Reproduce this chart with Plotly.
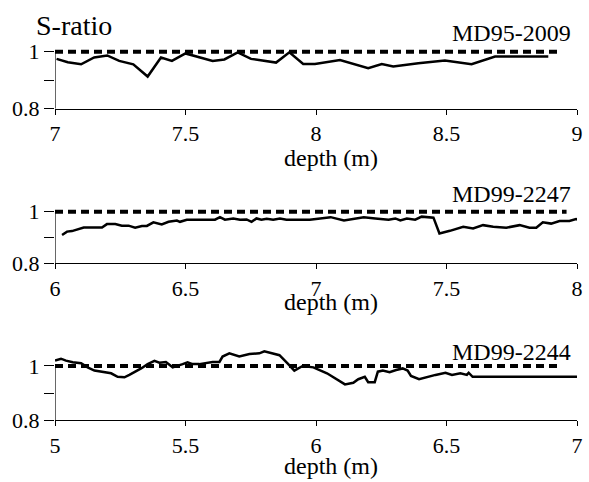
import plotly.graph_objects as go

# ---------------- data ----------------
# Panel 1: MD95-2009
md95_depth = [7.006, 7.049, 7.10, 7.15, 7.20, 7.246, 7.30, 7.355, 7.406, 7.448, 7.50,
              7.553, 7.604, 7.649, 7.70, 7.751, 7.802, 7.847, 7.898, 7.951, 7.996,
              8.092, 8.20, 8.252, 8.296, 8.392, 8.494, 8.596, 8.686, 8.75, 8.89]
md95_s = [0.975, 0.963, 0.956, 0.980, 0.987, 0.968, 0.956, 0.913, 0.980, 0.968, 0.994,
          0.980, 0.968, 0.973, 0.998, 0.975, 0.969, 0.962, 0.998, 0.957, 0.957,
          0.971, 0.942, 0.957, 0.948, 0.960, 0.969, 0.956, 0.983, 0.983, 0.983]

# Panel 2: MD99-2247
md2247_depth = [6.027, 6.046, 6.065, 6.084, 6.11, 6.135, 6.18, 6.199, 6.231, 6.256,
                6.282, 6.307, 6.333, 6.352, 6.377, 6.409, 6.435, 6.467, 6.479, 6.505,
                6.543, 6.581, 6.613, 6.632, 6.651, 6.683, 6.709, 6.734, 6.753, 6.772,
                6.791, 6.811, 6.836, 6.862, 6.887, 6.938, 6.976, 7.0, 7.056, 7.107,
                7.145, 7.183, 7.227, 7.278, 7.304, 7.323, 7.348, 7.38, 7.405, 7.45,
                7.473, 7.513, 7.564, 7.602, 7.64, 7.679, 7.729, 7.78, 7.818, 7.844,
                7.869, 7.901, 7.933, 7.971, 7.996, 8.02]
md2247_s = [0.910, 0.923, 0.925, 0.932, 0.939, 0.939, 0.939, 0.952, 0.952, 0.946,
            0.946, 0.938, 0.945, 0.945, 0.959, 0.951, 0.961, 0.966, 0.961, 0.969,
            0.969, 0.969, 0.969, 0.979, 0.969, 0.974, 0.969, 0.970, 0.961, 0.974,
            0.969, 0.973, 0.969, 0.974, 0.969, 0.969, 0.969, 0.972, 0.979, 0.966,
            0.972, 0.979, 0.974, 0.969, 0.974, 0.966, 0.974, 0.969, 0.981, 0.977,
            0.916, 0.926, 0.942, 0.935, 0.948, 0.942, 0.938, 0.948, 0.938, 0.938,
            0.959, 0.954, 0.964, 0.964, 0.972, 0.961]

# Panel 3: MD99-2244
md2244_depth = [5.0, 5.023, 5.042, 5.068, 5.10, 5.125, 5.151, 5.183, 5.215, 5.24,
                5.266, 5.285, 5.31, 5.33, 5.355, 5.381, 5.40, 5.425, 5.451, 5.47,
                5.489, 5.508, 5.527, 5.553, 5.579, 5.604, 5.63, 5.642, 5.668, 5.706,
                5.745, 5.783, 5.802, 5.834, 5.86, 5.891, 5.917, 5.949, 5.968, 5.99,
                6.042, 6.08, 6.111, 6.143, 6.162, 6.187, 6.2, 6.225, 6.237, 6.256,
                6.282, 6.307, 6.332, 6.351, 6.364, 6.395, 6.427, 6.458, 6.496, 6.521,
                6.553, 6.578, 6.585, 6.6, 7.0]
md2244_s = [1.020, 1.027, 1.020, 1.014, 1.010, 0.995, 0.983, 0.977, 0.973, 0.960,
            0.958, 0.967, 0.979, 0.991, 1.007, 1.019, 1.012, 1.015, 0.995, 1.000,
            1.007, 1.014, 1.007, 1.007, 1.012, 1.015, 1.015, 1.035, 1.047, 1.035,
            1.044, 1.047, 1.054, 1.047, 1.040, 1.010, 0.983, 1.000, 0.998, 0.995,
            0.973, 0.951, 0.932, 0.938, 0.951, 0.960, 0.940, 0.940, 0.979, 0.983,
            0.977, 0.985, 0.991, 0.983, 0.963, 0.951, 0.960, 0.967, 0.975, 0.967,
            0.973, 0.967, 0.975, 0.960, 0.960]

core_names = ["MD95-2009", "MD99-2247", "MD99-2244"]
x_ranges = [[7, 9], [6, 8], [5, 7]]
x_tickvals = [[7, 7.5, 8, 8.5, 9], [6, 6.5, 7, 7.5, 8], [5, 5.5, 6, 6.5, 7]]
x_ticktext = [["7", "7.5", "8", "8.5", "9"], ["6", "6.5", "7", "7.5", "8"],
              ["5", "5.5", "6", "6.5", "7"]]
ref_level = 1.0
ref_end = [8.94, 7.96, 6.94]
y_tickvals = [0.8, 0.9, 1.0]
y_ticktext = ["0.8", "", "1"]
y_range = [0.8, 1.08]

series = [(md95_depth, md95_s), (md2247_depth, md2247_s), (md2244_depth, md2244_s)]

# ---------------- layout geometry ----------------
W, H = 589, 482
FONT = "Liberation Serif"
domains = [[0.7743, 0.9400], [0.4537, 0.6035], [0.1286, 0.2855]]
label_y_px = [33, 194, 352]
depth_y_px = [158, 302, 466]

fig = go.Figure()
shapes = []
annotations = []
for i, (dx, sy) in enumerate(series):
    xa = "x" if i == 0 else f"x{i+1}"
    ya = "y" if i == 0 else f"y{i+1}"
    fig.add_trace(go.Scatter(x=dx, y=sy, mode="lines", xaxis=xa, yaxis=ya,
                             line=dict(color="black", width=2.5), showlegend=False,
                             hoverinfo="skip"))
    fig.add_trace(go.Scatter(x=[x_ranges[i][0], ref_end[i]], y=[ref_level, ref_level],
                             mode="lines", xaxis=xa, yaxis=ya,
                             line=dict(color="black", width=4, dash="8px,5px"),
                             showlegend=False, hoverinfo="skip"))
    xkey = "xaxis" if i == 0 else f"xaxis{i+1}"
    ykey = "yaxis" if i == 0 else f"yaxis{i+1}"
    fig.update_layout(**{
        xkey: dict(domain=[0, 1], range=x_ranges[i], anchor=ya, automargin=False,
                   tickvals=x_tickvals[i], ticktext=x_ticktext[i],
                   showline=True, linecolor="black", linewidth=1.2,
                   ticks="outside", ticklen=5, tickwidth=1.2, tickcolor="black",
                   showgrid=False, zeroline=False, ticklabeloverflow="allow",
                   tickfont=dict(family=FONT, size=22, color="black")),
        ykey: dict(domain=domains[i], range=y_range, anchor=xa, automargin=False,
                   tickvals=y_tickvals, ticktext=y_ticktext,
                   showline=False, ticks="outside", ticklen=10, tickwidth=1.2,
                   tickcolor="black", showgrid=False, zeroline=False,
                   tickfont=dict(family=FONT, size=22, color="black")),
    })
    shapes.append(dict(type="line", xref=xa, yref=ya,
                       x0=x_ranges[i][0], x1=x_ranges[i][0], y0=y_range[0], y1=ref_level,
                       line=dict(color="black", width=1.2)))
    annotations.append(dict(text=core_names[i], xref="paper", yref="paper",
                            x=(573 - 55) / 522, y=1 - label_y_px[i] / H,
                            xanchor="right", yanchor="middle", showarrow=False,
                            font=dict(family=FONT, size=24, color="black")))
    annotations.append(dict(text="depth (m)", xref="paper", yref="paper",
                            x=(330.5 - 55) / 522, y=1 - depth_y_px[i] / H,
                            xanchor="center", yanchor="middle", showarrow=False,
                            font=dict(family=FONT, size=24, color="black")))

annotations.append(dict(text="S-ratio", xref="paper", yref="paper",
                        x=(34 - 55) / 522, y=1 - 25 / H,
                        xanchor="left", yanchor="middle", showarrow=False,
                        font=dict(family=FONT, size=28, color="black")))

fig.update_layout(width=W, height=H, margin=dict(l=55, r=12, t=0, b=0, autoexpand=False),
                  paper_bgcolor="white", plot_bgcolor="white",
                  font=dict(family=FONT, color="black"),
                  shapes=shapes, annotations=annotations, showlegend=False)

fig.write_html("out.html", config={"displayModeBar": False},
               post_script="document.body.style.margin='0';document.body.style.padding='0';")
